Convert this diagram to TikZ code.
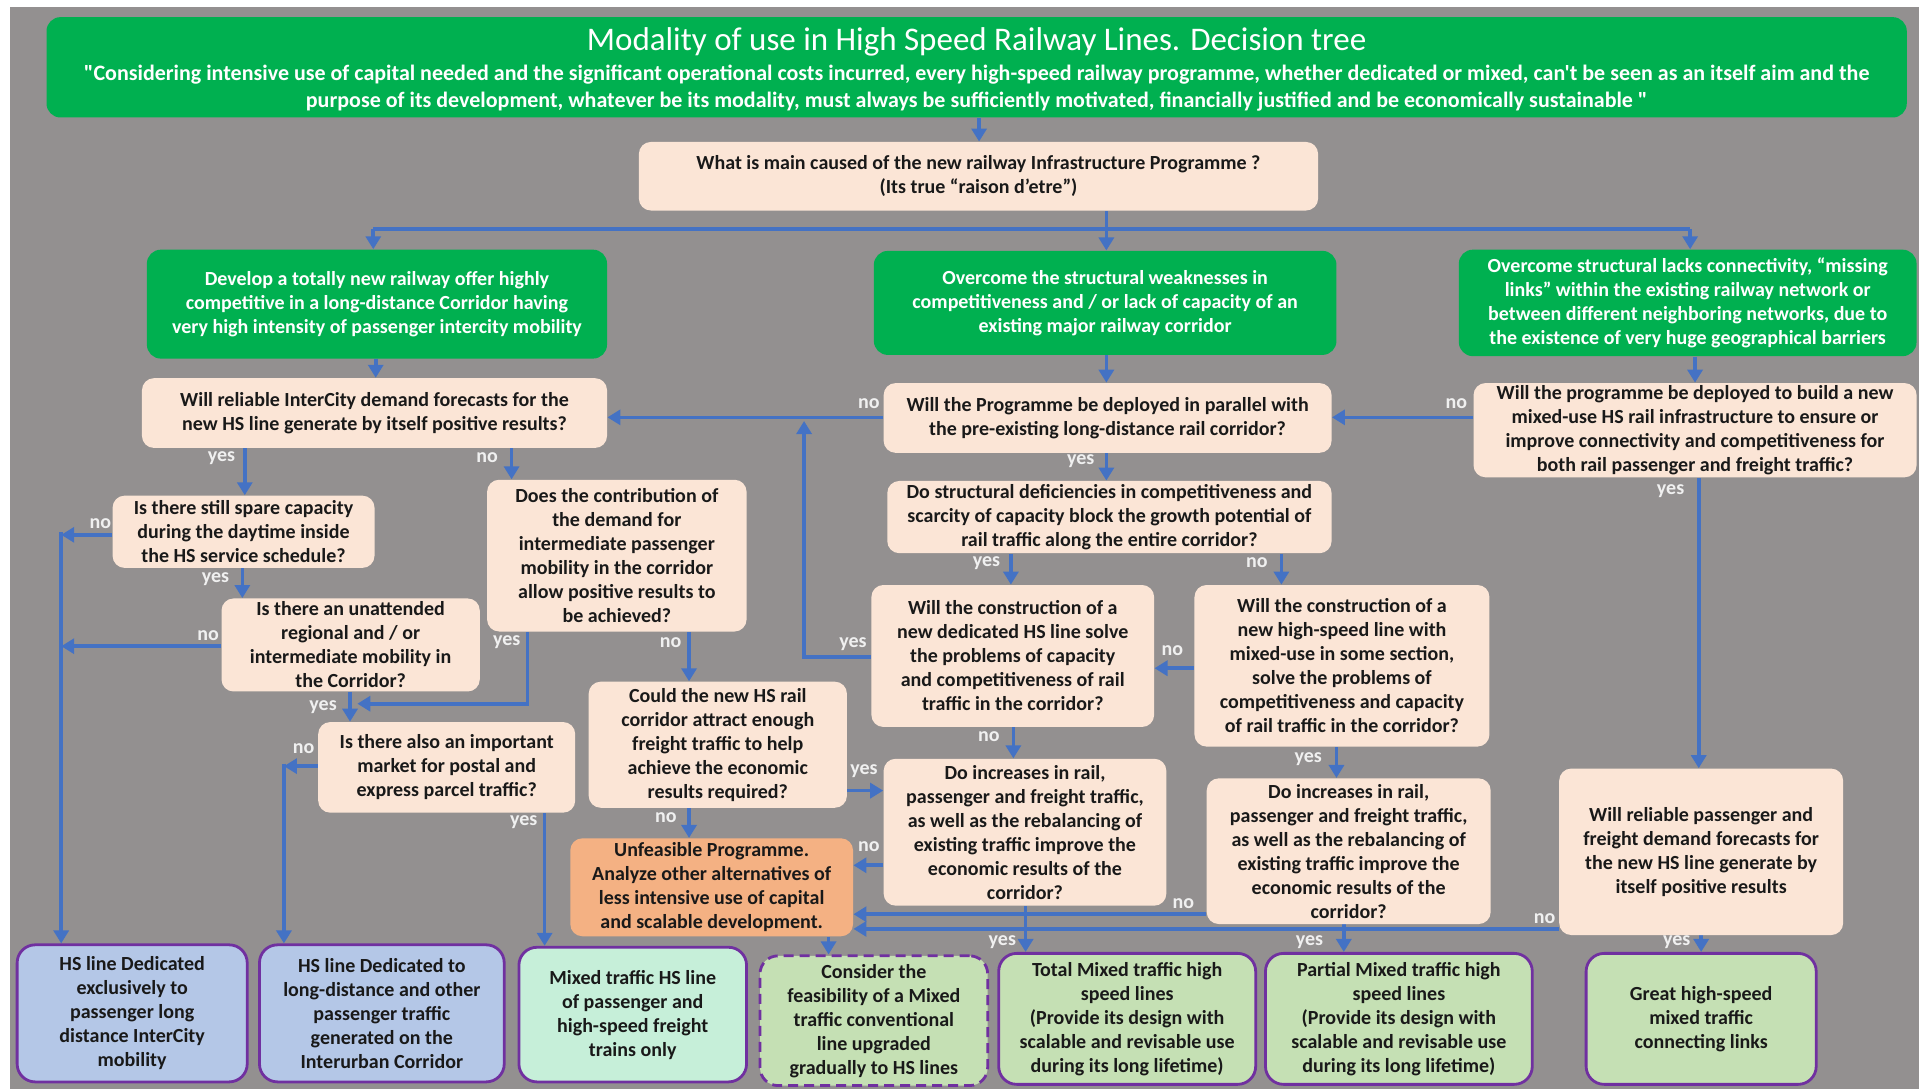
\documentclass[tikz,border=0pt]{standalone}
\usepackage{fontspec}
\setmainfont{Carlito}
\newfontfamily\plainf{Carlito}
\usetikzlibrary{arrows.meta}
\definecolor{bgray}{RGB}{147,144,144}
\definecolor{grn}{RGB}{0,176,80}
\definecolor{peach}{RGB}{251,229,214}
\definecolor{orng}{RGB}{244,177,131}
\definecolor{bluebox}{RGB}{180,199,231}
\definecolor{mint}{RGB}{198,239,217}
\definecolor{lgreen}{RGB}{197,224,180}
\definecolor{purp}{RGB}{112,48,160}
\definecolor{ablue}{RGB}{68,114,196}
\definecolor{txt}{RGB}{25,25,25}
\definecolor{lblc}{RGB}{240,240,240}
\pgfdeclarelayer{back}
\pgfdeclarelayer{bg}
\pgfsetlayers{back,bg,main}
\def\ux{0.6119pt}
\newcommand\bodyf{\fontsize{10}{12}\selectfont\bfseries}
\begin{document}
\begin{tikzpicture}[x=0.6119pt,y=-0.6119pt,
  sz/.style 2 args={minimum width={#1*\ux},minimum height={#2*\ux}},
  base/.style={rounded corners=6pt,align=center,inner sep=0pt,font=\bodyf,text=txt},
  qbox/.style={base,fill=peach},
  gbox/.style={base,fill=grn,text=white,rounded corners=7pt},
  obox/.style={base,fill=orng},
  endbox/.style={base,rounded corners=9pt,draw=purp,line width=1.4pt},
  ttl/.style={font=\fontsize{16.5}{19}\selectfont,text=white,inner sep=0pt},
  subt/.style={font=\plainf\fontsize{11}{13.5}\selectfont\bfseries,text=white,align=center,inner sep=0pt},
  ln/.style={draw=ablue,line width=1.8pt},
  arr/.style={ln,-{Triangle[length=6.5pt,width=7.5pt]}},
  lbl/.style={text=lblc,font=\fontsize{10}{11}\selectfont\bfseries,inner sep=0pt}
]
\useasboundingbox (0,0) rectangle (1568,890);
\begin{pgfonlayer}{back}
\fill[white] (0,0) rectangle (1568,890);
\fill[bgray] (8,6) rectangle (1568,890);
\end{pgfonlayer}

% title
\node[gbox,sz={1520}{82}] (tbox) at (798,55) {};
\node[ttl] (ttl) at (798,34) {Modality of use in High Speed Railway Lines. Decision tree};
\node[subt] (subt) at (798,72) {"Considering intensive use of capital needed and the significant operational costs incurred, every high-speed railway programme, whether dedicated or mixed, can't be seen as an itself aim and the\\purpose of its development, whatever be its modality, must always be sufficiently motivated, financially justified and be economically sustainable "};

\node[qbox,sz={555}{56}] (Q0) at (799.5,144) {What is main caused of the new railway Infrastructure Programme ?\\(Its true “raison d’etre”)};

\node[gbox,sz={376}{89}] (G1) at (308,248.5) {Develop a totally new railway offer highly\\competitive in a long-distance Corridor having\\very high intensity of passenger intercity mobility};
\node[gbox,sz={378}{85}] (G2) at (903,247.5) {Overcome the structural weaknesses in\\competitiveness and / or lack of capacity of an\\existing major railway corridor};
\node[gbox,sz={374}{87}] (G3) at (1379,247.5) {Overcome structural lacks connectivity, “missing\\links” within the existing railway network or\\between different neighboring networks, due to\\the existence of very huge geographical barriers};

\node[qbox,sz={380}{57}] (Q1) at (306,337.5) {Will reliable InterCity demand forecasts for the\\new HS line generate by itself positive results?};
\node[qbox,sz={366}{57}] (Qp) at (905,341.5) {Will the Programme be deployed in parallel with\\the pre-existing long-distance rail corridor?};
\node[qbox,sz={362}{77}] (Qm) at (1385,351.5) {Will the programme be deployed to build a new\\mixed-use HS rail infrastructure to ensure or\\improve connectivity and competitiveness for\\both rail passenger and freight traffic?};
\node[qbox,sz={363}{59}] (Qd) at (906.5,422.5) {Do structural deficiencies in competitiveness and\\scarcity of capacity block the growth potential of\\rail traffic along the entire corridor?};

\node[qbox,sz={214}{59}] (Q1a) at (199,434.5) {Is there still spare capacity\\during the daytime inside\\the HS service schedule?};
\node[qbox,sz={212}{124}] (Q1b) at (504,454) {Does the contribution of\\the demand for\\intermediate passenger\\mobility in the corridor\\allow positive results to\\be achieved?};
\node[qbox,sz={211}{76}] (Qu) at (286.5,527) {Is there an unattended\\regional and / or\\intermediate mobility in\\the Corridor?};
\node[qbox,sz={231}{116}] (Qh) at (827.5,536) {Will the construction of a\\new dedicated HS line solve\\the problems of capacity\\and competitiveness of rail\\traffic in the corridor?};
\node[qbox,sz={241}{132}] (Qx) at (1096.5,544) {Will the construction of a\\new high-speed line with\\mixed-use in some section,\\solve the problems of\\competitiveness and capacity\\of rail traffic in the corridor?};
\node[qbox,sz={210}{74}] (Qpost) at (365,627) {Is there also an important\\market for postal and\\express parcel traffic?};
\node[qbox,sz={211}{103}] (Q2) at (586.5,608.5) {Could the new HS rail\\corridor attract enough\\freight traffic to help\\achieve the economic\\results required?};
\node[qbox,sz={231}{120}] (Qi) at (837.5,680) {Do increases in rail,\\passenger and freight traffic,\\as well as the rebalancing of\\existing traffic improve the\\economic results of the\\corridor?};
\node[qbox,sz={232}{119}] (Qy) at (1102,695.5) {Do increases in rail,\\passenger and freight traffic,\\as well as the rebalancing of\\existing traffic improve the\\economic results of the\\corridor?};
\node[qbox,sz={232}{136}] (Qr) at (1390,696) {Will reliable passenger and\\freight demand forecasts for\\the new HS line generate by\\itself positive results};
\node[obox,sz={231}{80}] (Unf) at (581.5,725) {Unfeasible Programme.\\Analyze other alternatives of\\less intensive use of capital\\and scalable development.};

% end boxes
\node[endbox,fill=bluebox,sz={188}{112}] (B1) at (108,828) {HS line Dedicated\\exclusively to\\passenger long\\distance InterCity\\mobility};
\node[endbox,fill=bluebox,sz={200}{112}] (B2) at (312,828) {HS line Dedicated to\\long-distance and other\\passenger traffic\\generated on the\\Interurban Corridor};
\node[endbox,fill=mint,sz={186}{110}] (B3) at (517,829) {Mixed traffic HS line\\of passenger and\\high-speed freight\\trains only};
\node[endbox,fill=lgreen,dashed,dash pattern=on 5pt off 3pt,sz={186}{106}] (B4) at (714,834) {Consider the\\feasibility of a Mixed\\traffic conventional\\line upgraded\\gradually to HS lines};
\node[endbox,fill=lgreen,sz={210}{107}] (B5) at (921,832.5) {Total Mixed traffic high\\speed lines\\(Provide its design with\\scalable and revisable use\\during its long lifetime)};
\node[endbox,fill=lgreen,sz={218}{107}] (B6) at (1143,832.5) {Partial Mixed traffic high\\speed lines\\(Provide its design with\\scalable and revisable use\\during its long lifetime)};
\node[endbox,fill=lgreen,sz={188}{107}] (B7) at (1390,832.5) {Great high-speed\\mixed traffic\\connecting links};

\coordinate (hub) at (904,187);
\coordinate (hubL) at (305,187);
\coordinate (hubR) at (1381,187);
\coordinate (L1) at (50,437);
\coordinate (L2) at (232,626);
\coordinate (K1) at (431,575);
\coordinate (K2) at (657,537);

\begin{pgfonlayer}{bg}
\draw[arr] (tbox.south -| 800,0) -- (Q0.north -| 800,0);
\draw[ln] (Q0.south -| hub) -- (hub);
\draw[ln] (hubL) -- (hubR);
\draw[arr] (hub) -- (G2.north -| hub);
\draw[arr] (hubL) -- (G1.north -| hubL);
\draw[arr] (hubR) -- (G3.north -| hubR);
\draw[arr] (G1.south -| 307,0) -- (Q1.north -| 307,0);
\draw[arr] (G2.south -| 904,0) -- (Qp.north -| 904,0);
\draw[arr] (G3.south -| 1385,0) -- (Qm.north -| 1385,0);
\draw[arr] (Qm.west |- 0,341) -- (Qp.east |- 0,341);
\draw[arr] (Qp.west |- 0,341) -- (Q1.east |- 0,341);
\draw[arr] (Qp.south -| 904,0) -- (Qd.north -| 904,0);
\draw[arr] (Qm.south -| 1388,0) -- (Qr.north -| 1388,0);
\draw[arr] (Q1.south -| 200,0) -- (Q1a.north -| 200,0);
\draw[arr] (Q1.south -| 418,0) -- (Q1b.north -| 418,0);
\draw[arr] (Q1a.west |- L1) -- (L1);
\draw[arr] (50,435) -- (B1.north -| L1);
\draw[arr] (Qu.west |- 0,528) -- (L1 |- 0,528);
\draw[arr] (Q1a.south -| 198,0) -- (Qu.north -| 198,0);
\draw[arr] (Qu.south -| 286,0) -- (Qpost.north -| 286,0);
\draw[arr] (Q1b.south -| K1) -- (K1) -- (292,575);
\draw[arr] (Q1b.south -| 563,0) -- (Q2.north -| 563,0);
\draw[arr] (Qpost.west |- L2) -- (L2);
\draw[arr] (232,624) -- (B2.north -| L2);
\draw[arr] (Qpost.south -| 445,0) -- (B3.north -| 445,0);
\draw[arr] (Q2.south -| 563,0) -- (Unf.north -| 563,0);
\draw[arr] (Q2.east |- 0,646) -- (Qi.west |- 0,646);
\draw[arr] (Qd.south -| 826,0) -- (Qh.north -| 826,0);
\draw[arr] (Qd.south -| 1047,0) -- (Qx.north -| 1047,0);
\draw[arr] (Qh.west |- K2) -- (K2) -- (657,344);
\draw[arr] (Qh.south -| 828,0) -- (Qi.north -| 828,0);
\draw[arr] (Qx.west |- 0,546) -- (Qh.east |- 0,546);
\draw[arr] (Qx.south -| 1092,0) -- (Qy.north -| 1092,0);
\draw[arr] (Qi.west |- 0,707) -- (Unf.east |- 0,707);
\draw[arr] (Qi.south -| 838,0) -- (B5.north -| 838,0);
\draw[arr] (Qy.south -| 1098,0) -- (B6.north -| 1098,0);
\draw[arr] (Qy.west |- 0,747) -- (Unf.east |- 0,747);
\draw[arr] (Qr.west |- 0,759) -- (Unf.east |- 0,759);
\draw[arr] (Qr.south -| 1390,0) -- (B7.north -| 1390,0);
\draw[arr] (Unf.south -| 677,0) -- (B4.north -| 677,0);
\end{pgfonlayer}

% labels
\node[lbl] (l1) at (181,374) {yes};
\node[lbl] (l2) at (398,374) {no};
\node[lbl] (l3) at (710,330) {no};
\node[lbl] (l4) at (1190,330) {no};
\node[lbl] (l5) at (883,377) {yes};
\node[lbl] (l6) at (1365,401) {yes};
\node[lbl] (l7) at (82,428) {no};
\node[lbl] (l8) at (176,473) {yes};
\node[lbl] (l9) at (170,519) {no};
\node[lbl] (l10) at (264,578) {yes};
\node[lbl] (l11) at (414,525) {yes};
\node[lbl] (l12) at (548,525) {no};
\node[lbl] (l13) at (806,460) {yes};
\node[lbl] (l14) at (1027,460) {no};
\node[lbl] (l15) at (697,526) {yes};
\node[lbl] (l16) at (808,602) {no};
\node[lbl] (l17) at (958,532) {no};
\node[lbl] (l18) at (1069,620) {yes};
\node[lbl] (l19) at (248,612) {no};
\node[lbl] (l20) at (428,672) {yes};
\node[lbl] (l21) at (706,630) {yes};
\node[lbl] (l22) at (544,668) {no};
\node[lbl] (l23) at (710,692) {no};
\node[lbl] (l24) at (819,770) {yes};
\node[lbl] (l25) at (967,738) {no};
\node[lbl] (l26) at (1070,770) {yes};
\node[lbl] (l27) at (1262,751) {no};
\node[lbl] (l28) at (1370,770) {yes};
\end{tikzpicture}
\end{document}
